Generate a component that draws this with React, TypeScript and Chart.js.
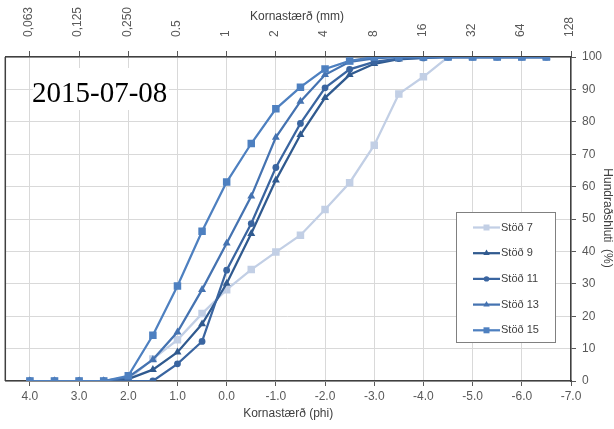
import React, { useEffect, useRef } from "react";
import { Chart, registerables } from "chart.js";

Chart.register(...registerables);

const phi = [4.0, 3.5, 3.0, 2.5, 2.0, 1.5, 1.0, 0.5, 0.0, -0.5, -1.0, -1.5, -2.0, -2.5, -3.0, -3.5, -4.0, -4.5, -5.0, -5.5, -6.0, -6.5];
const phiTicks = [-7, -6, -5, -4, -3, -2, -1, 0, 1, 2, 3, 4];
const mmLabels = ["128", "64", "32", "16", "8", "4", "2", "1", "0.5", "0,250", "0,125", "0,063"];
const pctTicks = [0, 10, 20, 30, 40, 50, 60, 70, 80, 90, 100];

const seriesNames = ["Stöð 7", "Stöð 9", "Stöð 11", "Stöð 13", "Stöð 15"];
const stod7 = [0, 0, 0, 0, 0.5, 6.8, 12.7, 20.8, 28.2, 34.4, 39.8, 45.0, 52.9, 61.2, 72.8, 88.6, 93.9, 100, 100, 100, 100, 100];
const stod9 = [0, 0, 0, 0, 0.6, 3.5, 8.9, 17.6, 30.1, 45.5, 62.0, 76.0, 87.4, 94.5, 97.9, 99.3, 99.7, 100, 100, 100, 100, 100];
const stod11 = [0, 0, 0, 0, 0, 0, 5.3, 12.2, 34.2, 48.6, 65.9, 79.5, 90.5, 96.2, 98.5, 99.5, 99.7, 100, 100, 100, 100, 100];
const stod13 = [0, 0, 0, 0, 1.2, 6.6, 15.1, 28.2, 42.5, 57.0, 75.2, 86.3, 94.5, 98.5, 99.6, 100, 100, 100, 100, 100, 100, 100];
const stod15 = [0, 0, 0, 0, 1.6, 14.1, 29.3, 46.2, 61.4, 73.3, 84.0, 90.7, 96.3, 98.8, 100, 100, 100, 100, 100, 100, 100, 100];

const dateLabel = "2015-07-08";
const xTitle = "Kornastærð (phi)";
const x2Title = "Kornastærð (mm)";
const yTitle = "Hundraðshluti  (%)";

const seriesValues = [stod7, stod9, stod11, stod13, stod15];
const seriesColors = ["#c2cfe5", "#305a8f", "#3a65a0", "#4573b1", "#4e80c0"];
const seriesPoints = ["rect", "triangle", "circle", "triangle", "rect"];
const seriesRadius = [5.3, 4.6, 3.4, 4.6, 5.3];

const FONT = "'Liberation Sans', Arial, sans-serif";

function drawMarker(ctx: CanvasRenderingContext2D, style: string, x: number, y: number, r: number, color: string) {
  ctx.save();
  ctx.fillStyle = color;
  ctx.beginPath();
  if (style === "rect") {
    const s = Math.SQRT1_2 * r;
    ctx.rect(x - s, y - s, 2 * s, 2 * s);
  } else if (style === "circle") {
    ctx.arc(x, y, r, 0, Math.PI * 2);
  } else {
    const sx = r * Math.sin(Math.PI * 2 / 3);
    const sy = -r * Math.cos(Math.PI * 2 / 3);
    ctx.moveTo(x, y - r);
    ctx.lineTo(x + sx, y + sy);
    ctx.lineTo(x - sx, y + sy);
    ctx.closePath();
  }
  ctx.fill();
  ctx.restore();
}

const overlayPlugin = {
  id: "overlay",
  afterDraw(chart: any) {
    const { ctx, chartArea } = chart;
    const { left, right, top, bottom } = chartArea;
    ctx.save();
    // left border
    ctx.strokeStyle = "#404040";
    ctx.lineWidth = 1.5;
    ctx.beginPath();
    ctx.moveTo(left, top);
    ctx.lineTo(left, bottom);
    ctx.stroke();

    // axis titles
    ctx.fillStyle = "#404040";
    ctx.font = `12px ${FONT}`;
    ctx.textAlign = "center";
    ctx.textBaseline = "middle";
    ctx.fillText(x2Title, 297, 17);
    ctx.fillText(xTitle, (left + right) / 2, 414);
    ctx.save();
    ctx.translate(607, 218);
    ctx.rotate(Math.PI / 2);
    ctx.fillText(yTitle, 0, 0);
    ctx.restore();

    // date label
    ctx.fillStyle = "#ffffff";
    ctx.fillRect(33, 68, 136, 42);
    ctx.fillStyle = "#000000";
    ctx.font = `29px 'Liberation Serif', 'Times New Roman', serif`;
    ctx.textAlign = "left";
    ctx.textBaseline = "alphabetic";
    ctx.fillText(dateLabel, 32, 102);

    // legend
    const bx = 456.5, by = 212.5, bw = 99, bh = 130;
    ctx.fillStyle = "#ffffff";
    ctx.fillRect(bx, by, bw, bh);
    ctx.strokeStyle = "#808080";
    ctx.lineWidth = 1;
    ctx.strokeRect(bx, by, bw, bh);
    ctx.font = `11px ${FONT}`;
    ctx.textBaseline = "middle";
    seriesNames.forEach((name, i) => {
      const yy = 227.5 + i * 25.7;
      ctx.strokeStyle = seriesColors[i];
      ctx.lineWidth = 2.25;
      ctx.beginPath();
      ctx.moveTo(473, yy);
      ctx.lineTo(500, yy);
      ctx.stroke();
      drawMarker(ctx, seriesPoints[i], 486.5, yy, seriesRadius[i] * 0.8, seriesColors[i]);
      ctx.fillStyle = "#404040";
      ctx.fillText(name, 501, yy);
    });
    ctx.restore();
  },
};

export default function App() {
  const ref = useRef<HTMLCanvasElement | null>(null);
  useEffect(() => {
    if (!ref.current) return;
    const setTicks = (vals: number[]) => (scale: any) => {
      scale.ticks = vals.map((v) => ({ value: v }));
    };
    const chart = new Chart(ref.current, {
      type: "line",
      data: {
        datasets: seriesNames.map((name, i) => ({
          label: name,
          data: phi.map((p, j) => ({ x: p, y: seriesValues[i][j] })),
          borderColor: seriesColors[i],
          backgroundColor: seriesColors[i],
          borderWidth: 2.25,
          pointStyle: seriesPoints[i] as any,
          pointRadius: seriesRadius[i],
          pointBorderWidth: 0,
          tension: 0,
          fill: false,
          order: seriesNames.length - 1 - i,
        })),
      },
      options: {
        responsive: false,
        animation: false,
        layout: { padding: { left: 4, right: 0, top: 0, bottom: 0 } },
        plugins: { legend: { display: false }, tooltip: { enabled: false } },
        scales: {
          x: {
            type: "linear",
            position: "bottom",
            min: -7,
            max: 4.5,
            reverse: true,
            afterBuildTicks: setTicks(phiTicks),
            afterFit: (s: any) => { s.height = 48; },
            ticks: {
              callback: (v: any) => Number(v).toFixed(1),
              color: "#595959",
              font: { family: FONT, size: 12 },
              padding: 3,
              maxRotation: 0,
              autoSkip: false,
            },
            grid: { color: "#d9d9d9", tickColor: "#595959", tickLength: 5, lineWidth: 1 },
            border: { color: "#404040", width: 1.5 },
          },
          x2: {
            type: "linear",
            position: "top",
            min: -7,
            max: 4.5,
            reverse: true,
            afterBuildTicks: setTicks(phiTicks),
            afterFit: (s: any) => { s.height = 57; },
            ticks: {
              callback: (v: any) => mmLabels[phiTicks.indexOf(Number(v))],
              color: "#595959",
              font: { family: FONT, size: 12 },
              padding: 14,
              labelOffset: 13.5,
              minRotation: 90,
              maxRotation: 90,
              autoSkip: false,
            },
            grid: { drawOnChartArea: false, tickColor: "#595959", tickLength: 6 },
            border: { color: "#404040", width: 1.5 },
          },
          y: {
            type: "linear",
            position: "right",
            min: 0,
            max: 100,
            afterBuildTicks: setTicks(pctTicks),
            afterFit: (s: any) => { s.width = 43; },
            ticks: {
              color: "#595959",
              font: { family: FONT, size: 12 },
              padding: 6,
              autoSkip: false,
            },
            grid: { color: "#d9d9d9", tickColor: "#595959", tickLength: 5, lineWidth: 1 },
            border: { color: "#404040", width: 1.5 },
          },
        },
      } as any,
      plugins: [overlayPlugin],
    });
    return () => chart.destroy();
  }, []);
  return (
    <div style={{ position: "fixed", left: 0, top: 0, width: 614, height: 429, background: "#ffffff" }}>
      <canvas ref={ref} width={614} height={429} style={{ display: "block" }} />
    </div>
  );
}
